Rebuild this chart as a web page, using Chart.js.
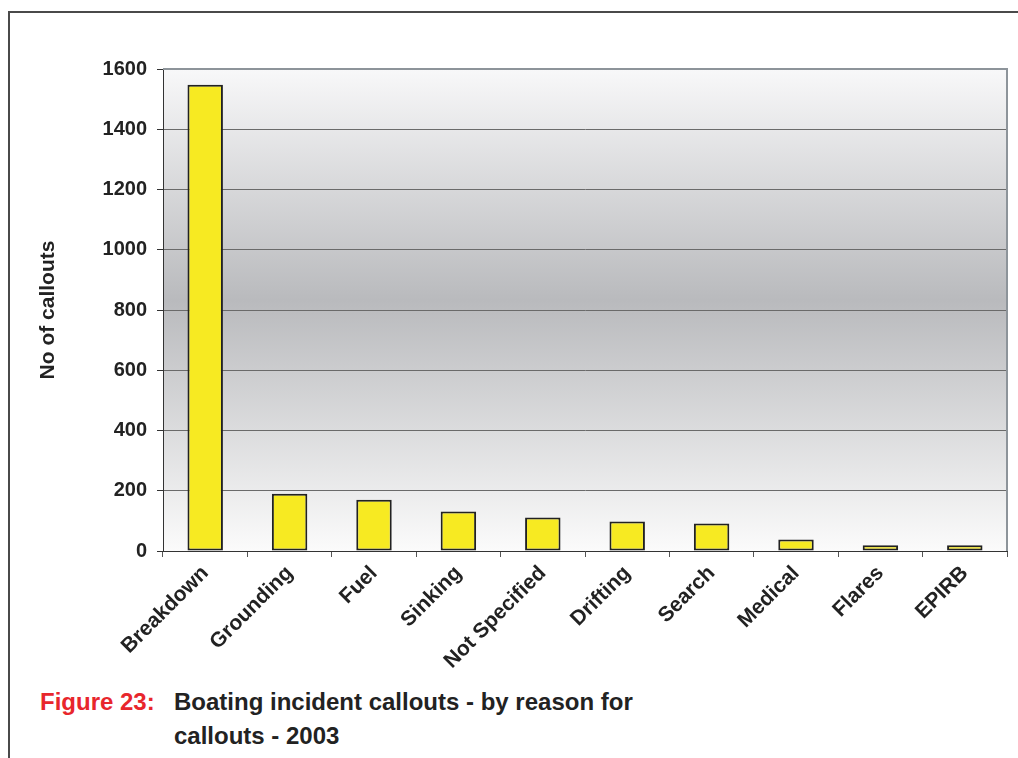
<!DOCTYPE html>
<html>
<head>
<meta charset="utf-8">
<script src="https://cdn.jsdelivr.net/npm/chart.js@4/dist/chart.umd.min.js"></script>
<style>
  html, body { margin: 0; padding: 0; background: #fff; }
  body { width: 1018px; height: 758px; position: relative; overflow: hidden; font-family: "Liberation Sans", Arial, sans-serif; }
  #frame { position: absolute; left: 8px; top: 11px; width: 1020px; height: 760px; border-top: 2px solid #4a4a4a; border-left: 2px solid #4a4a4a; }
  #wrap { position: absolute; left: 0; top: 0; width: 1018px; height: 680px; }
  .cap { position: absolute; font-weight: bold; font-size: 24px; line-height: 24px; color: #222; white-space: nowrap; }
  .cap.red { color: #e8262c; }
</style>
</head>
<body>
<div id="frame"></div>
<div id="wrap"><canvas id="chart"></canvas></div>
<div class="cap red" style="left:40px; top:690px;">Figure 23:</div>
<div class="cap" style="left:174px; top:690px;">Boating incident callouts - by reason for</div>
<div class="cap" style="left:174px; top:724px;">callouts - 2003</div>
<script>
var reasons = ["Breakdown", "Grounding", "Fuel", "Sinking", "Not Specified", "Drifting", "Search", "Medical", "Flares", "EPIRB"];
var callouts = [1548, 190, 170, 131, 111, 98, 91, 38, 19, 19];
var yTicks = [0, 200, 400, 600, 800, 1000, 1200, 1400, 1600];

// grey gradient behind the bars plus the light frame on top and right
var plotBackground = {
  id: "plotBackground",
  beforeDraw: function (chart) {
    var ctx = chart.ctx, a = chart.chartArea;
    var g = ctx.createLinearGradient(0, a.top, 0, a.bottom);
    g.addColorStop(0, "#f8f8f9");
    g.addColorStop(0.48, "#b9babd");
    g.addColorStop(1, "#fbfbfb");
    ctx.save();
    ctx.fillStyle = g;
    ctx.fillRect(a.left, a.top, a.right - a.left, a.bottom - a.top);
    ctx.restore();
  },
  beforeDatasetsDraw: function (chart) {
    var ctx = chart.ctx, a = chart.chartArea;
    ctx.save();
    ctx.strokeStyle = "#8d949a";
    ctx.lineWidth = 2;
    ctx.beginPath();
    ctx.moveTo(a.left, a.top);
    ctx.lineTo(a.right, a.top);
    ctx.lineTo(a.right, a.bottom);
    ctx.stroke();
    ctx.restore();
  }
};

var fontFamily = "'Liberation Sans', Arial, sans-serif";

new Chart(document.getElementById("chart").getContext("2d"), {
  type: "bar",
  data: {
    labels: reasons,
    datasets: [{
      data: callouts,
      backgroundColor: "#f7ea22",
      borderColor: "#222222",
      borderWidth: 2,
      borderSkipped: false,
      categoryPercentage: 1,
      barPercentage: 0.42
    }]
  },
  options: {
    responsive: true,
    maintainAspectRatio: false,
    animation: false,
    layout: { padding: { left: 0, right: 11, top: 69, bottom: 0 } },
    plugins: { legend: { display: false }, tooltip: { enabled: false } },
    scales: {
      x: {
        afterFit: function (scale) { scale.height = 129; },
        border: { color: "#333", width: 1 },
        grid: { drawOnChartArea: false, drawTicks: true, tickLength: 6, color: "#555", offset: true },
        ticks: { color: "#222", font: { family: fontFamily, size: 21, weight: "bold" }, minRotation: 45, maxRotation: 45, padding: 4 }
      },
      y: {
        min: 0,
        max: 1600,
        afterFit: function (scale) { scale.width = 163; },
        afterBuildTicks: function (scale) { scale.ticks = yTicks.map(function (v) { return { value: v }; }); },
        border: { color: "#333", width: 1 },
        grid: { color: "#6a6a6a", lineWidth: 1, tickLength: 6, tickColor: "#333" },
        ticks: {
          color: "#222",
          font: { family: fontFamily, size: 20, weight: "bold" },
          padding: 10,
          callback: function (v) { return String(v); }
        },
        title: {
          display: true,
          text: "No of callouts",
          color: "#222",
          font: { family: fontFamily, size: 21, weight: "bold" },
          padding: { top: 36, bottom: 0 }
        }
      }
    }
  },
  plugins: [plotBackground]
});
</script>
</body>
</html>
